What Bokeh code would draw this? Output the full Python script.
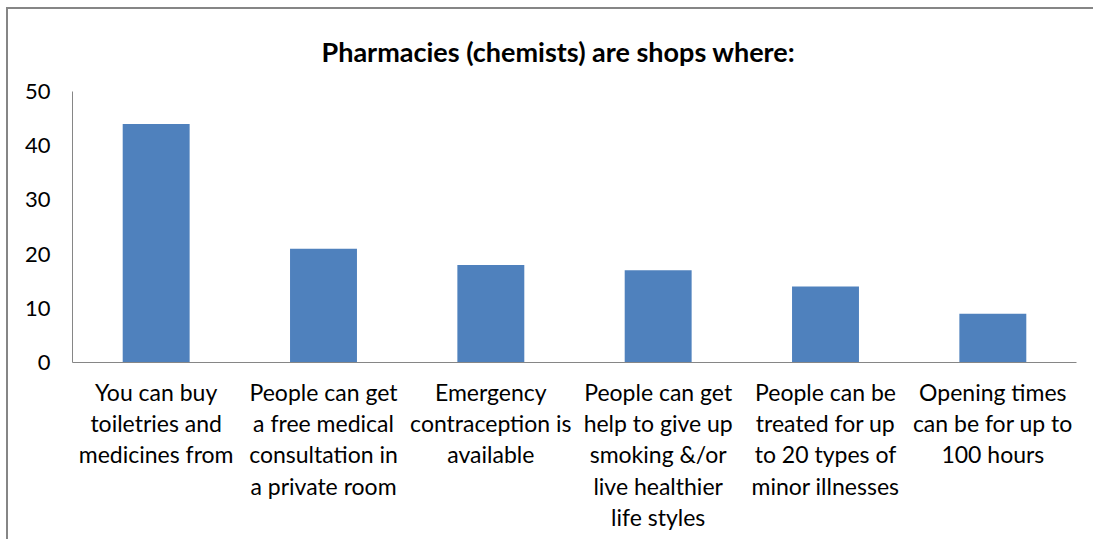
from bokeh.plotting import figure
from bokeh.models import FactorRange, Title
from bokeh.embed import file_html
from bokeh.resources import INLINE

labels = [
    "You can buy\ntoiletries and\nmedicines from",
    "People can get\na free medical\nconsultation in\na private room",
    "Emergency\ncontraception is\navailable",
    "People can get\nhelp to give up\nsmoking &/or\nlive healthier\nlife styles",
    "People can be\ntreated for up\nto 20 types of\nminor illnesses",
    "Opening times\ncan be for up to\n100 hours",
]
values = [44, 21, 18, 17, 14, 9]
yticks = [0, 10, 20, 30, 40, 50]
title_text = "Pharmacies (chemists) are shops where:"

FONT = "Lato"

p = figure(width=1087, height=532, x_range=FactorRange(*labels, range_padding=0),
           y_range=(0, 50), output_backend="svg", toolbar_location=None,
           min_border_left=64, min_border_right=19, min_border_top=82, min_border_bottom=179)
p.title = None
p.vbar(x=labels, top=values, width=0.4, color="#4F81BD", line_color=None)

t = Title(text=title_text, align="left", text_font=FONT,
          text_font_size="27px", text_font_style="bold", text_color="#000000",
          offset=249, standoff=47)
p.add_layout(t, "above")

p.xgrid.visible = False
p.ygrid.visible = False
p.outline_line_color = None

p.yaxis.ticker = yticks
p.yaxis.axis_line_color = "#868686"
p.yaxis.major_tick_line_color = None
p.yaxis.major_tick_out = 0
p.yaxis.minor_tick_line_color = None
p.yaxis.major_label_text_font = FONT
p.yaxis.major_label_text_font_size = "22px"
p.yaxis.major_label_text_color = "#000000"
p.yaxis.major_label_standoff = 22

p.xaxis.axis_line_color = "#868686"
p.xaxis.major_tick_line_color = None
p.xaxis.major_tick_out = 0
p.xaxis.minor_tick_line_color = None
p.xaxis.major_label_text_font = FONT
p.xaxis.major_label_text_font_size = "23px"
p.xaxis.major_label_text_color = "#000000"
p.xaxis.major_label_text_line_height = 1.12
p.xaxis.major_label_standoff = 15

p.styles = {"border-top": "2px solid #868686", "border-left": "2px solid #868686",
            "margin-top": "7px", "margin-left": "6px"}

open("out.html", "w").write(file_html(p, INLINE))
